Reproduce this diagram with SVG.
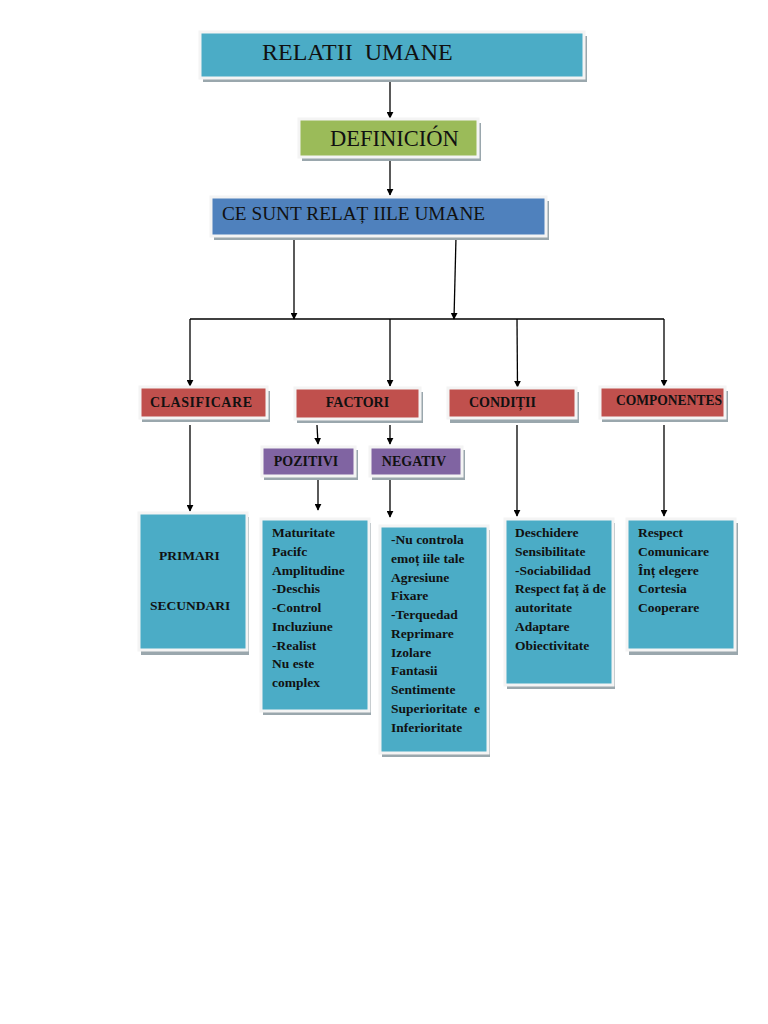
<svg xmlns="http://www.w3.org/2000/svg" width="768" height="1024" viewBox="0 0 768 1024">
<defs>
<style>
.sh{fill:#9aa7ad}
.bx{stroke:#f4f4f4;stroke-width:3}
.cy{fill:#4bacc6}
.rd{fill:#c0504d}
.pu{fill:#8064a2}
.t{font-family:"Liberation Serif","Times New Roman",serif;fill:#111;white-space:pre}
.b{font-weight:bold;font-size:13.5px}
.h{font-weight:bold;font-size:14px}
.c{stroke:#000;stroke-width:1.3;fill:none}
.a{stroke:#000;stroke-width:1.3;fill:none;marker-end:url(#ar)}
</style>
<marker id="ar" viewBox="0 0 10 10" refX="9" refY="5" markerWidth="7" markerHeight="7" markerUnits="userSpaceOnUse" orient="auto">
<path d="M0,0 L10,5 L0,10 z" fill="#000"/>
</marker>
</defs>
<rect width="768" height="1024" fill="#fff"/>

<g id="connectors">
<line class="a" x1="390" y1="80" x2="390" y2="118"/>
<line class="a" x1="390" y1="158" x2="390" y2="195"/>
<line class="a" x1="294" y1="237" x2="294" y2="319"/>
<line class="a" x1="456" y1="237" x2="454" y2="319"/>
<polyline class="c" points="190,319 664,319"/>
<line class="a" x1="190" y1="319" x2="190" y2="386"/>
<line class="a" x1="390" y1="319" x2="390" y2="386"/>
<line class="a" x1="517" y1="319" x2="517.5" y2="387"/>
<line class="a" x1="664" y1="319" x2="664" y2="386"/>
<line class="a" x1="317" y1="425" x2="318" y2="444"/>
<line class="a" x1="390" y1="425" x2="390" y2="444"/>
<line class="a" x1="190" y1="425" x2="190" y2="511"/>
<line class="a" x1="318" y1="477" x2="318" y2="510"/>
<line class="a" x1="390" y1="477" x2="390" y2="517"/>
<line class="a" x1="517" y1="425" x2="517" y2="516"/>
<line class="a" x1="664" y1="425" x2="664" y2="516"/>
</g>

<g id="n-relatii">
<rect class="sh" x="203" y="36" width="384" height="46"/>
<rect class="bx" x="200" y="32" width="384" height="46" fill="#4bacc6"/>
<text class="t" x="262" y="60" font-size="24" xml:space="preserve">RELATII  UMANE</text>
</g>

<g id="n-definicion">
<rect class="sh" x="302" y="123" width="179" height="38"/>
<rect class="bx" x="299" y="119" width="179" height="38" fill="#9bbb59"/>
<text class="t" x="330" y="146" font-size="22.5">DEFINICIÓN</text>
</g>

<g id="n-cesunt">
<rect class="sh" x="214" y="201" width="335" height="39"/>
<rect class="bx" x="211" y="197" width="335" height="39" fill="#4f81bd"/>
<text class="t" x="222" y="220" font-size="19.3">CE SUNT RELAȚ IILE UMANE</text>
</g>

<g id="n-clasificare">
<rect class="sh" x="142" y="391" width="128" height="31"/>
<rect class="bx rd" x="140" y="387" width="127" height="31"/>
<text class="t h" x="150" y="407" textLength="102" lengthAdjust="spacing">CLASIFICARE</text>
</g>

<g id="n-factori">
<rect class="sh" x="297" y="392" width="126" height="31"/>
<rect class="bx rd" x="295" y="388" width="125" height="31"/>
<text class="t h" x="357.5" y="407" text-anchor="middle">FACTORI</text>
</g>

<g id="n-conditii">
<rect class="sh" x="450" y="392" width="129" height="31"/>
<rect class="bx rd" x="448" y="388" width="128" height="30"/>
<text class="t h" x="469" y="407">CONDIȚII</text>
</g>

<g id="n-componentes">
<rect class="sh" x="602" y="391" width="126" height="31"/>
<rect class="bx rd" x="600" y="387" width="125" height="31"/>
<text class="t h" x="616" y="405" textLength="106" lengthAdjust="spacingAndGlyphs">COMPONENTES</text>
</g>

<g id="n-pozitivi">
<rect class="sh" x="264" y="450" width="94" height="30"/>
<rect class="bx pu" x="262" y="447" width="93" height="29"/>
<text class="t h" x="306" y="466" text-anchor="middle">POZITIVI</text>
</g>

<g id="n-negativ">
<rect class="sh" x="372" y="450" width="93" height="30"/>
<rect class="bx pu" x="370" y="447" width="92" height="29"/>
<text class="t h" x="414" y="466" text-anchor="middle">NEGATIV</text>
</g>

<g id="n-primari">
<rect class="sh" x="141" y="517" width="108" height="138"/>
<rect class="bx cy" x="139" y="513" width="108" height="137"/>
<text class="t b" x="159" y="560">PRIMARI</text>
<text class="t b" x="150" y="610">SECUNDARI</text>
</g>

<g id="n-pozitivi-list">
<rect class="sh" x="263" y="523" width="108" height="192"/>
<rect class="bx cy" x="261" y="519" width="108" height="192"/>
<text class="t b" x="272">
<tspan x="272" y="537">Maturitate</tspan>
<tspan x="272" y="556">Pacifc</tspan>
<tspan x="272" y="574.5">Amplitudine</tspan>
<tspan x="272" y="593">-Deschis</tspan>
<tspan x="272" y="612">-Control</tspan>
<tspan x="272" y="631">Incluziune</tspan>
<tspan x="272" y="649.5">-Realist</tspan>
<tspan x="272" y="668">Nu este</tspan>
<tspan x="272" y="687">complex</tspan>
</text>
</g>

<g id="n-negativ-list">
<rect class="sh" x="382" y="530" width="108" height="227"/>
<rect class="bx cy" x="380" y="526" width="108" height="227"/>
<text class="t b" x="391">
<tspan x="391" y="544">-Nu controla</tspan>
<tspan x="391" y="562.5">emoț iile tale</tspan>
<tspan x="391" y="581.5">Agresiune</tspan>
<tspan x="391" y="600">Fixare</tspan>
<tspan x="391" y="619">-Terquedad</tspan>
<tspan x="391" y="637.5">Reprimare</tspan>
<tspan x="391" y="656.5">Izolare</tspan>
<tspan x="391" y="675">Fantasii</tspan>
<tspan x="391" y="694">Sentimente</tspan>
<tspan x="391" y="712.5" textLength="89" lengthAdjust="spacing" xml:space="preserve">Superioritate  e</tspan>
<tspan x="391" y="731.5">Inferioritate</tspan>
</text>
</g>

<g id="n-conditii-list">
<rect class="sh" x="507" y="523" width="108" height="166"/>
<rect class="bx cy" x="505" y="519" width="108" height="166"/>
<text class="t b" x="515">
<tspan x="515" y="537">Deschidere</tspan>
<tspan x="515" y="556">Sensibilitate</tspan>
<tspan x="515" y="574.5">-Sociabilidad</tspan>
<tspan x="515" y="593" xml:space="preserve">Respect faț ă de</tspan>
<tspan x="515" y="612">autoritate</tspan>
<tspan x="515" y="631">Adaptare</tspan>
<tspan x="515" y="649.5">Obiectivitate</tspan>
</text>
</g>

<g id="n-componente-list">
<rect class="sh" x="629" y="523" width="109" height="132"/>
<rect class="bx cy" x="627" y="519" width="108" height="131"/>
<text class="t b" x="638">
<tspan x="638" y="537">Respect</tspan>
<tspan x="638" y="556">Comunicare</tspan>
<tspan x="638" y="574.5">Înț elegere</tspan>
<tspan x="638" y="593">Cortesia</tspan>
<tspan x="638" y="612">Cooperare</tspan>
</text>
</g>
</svg>
